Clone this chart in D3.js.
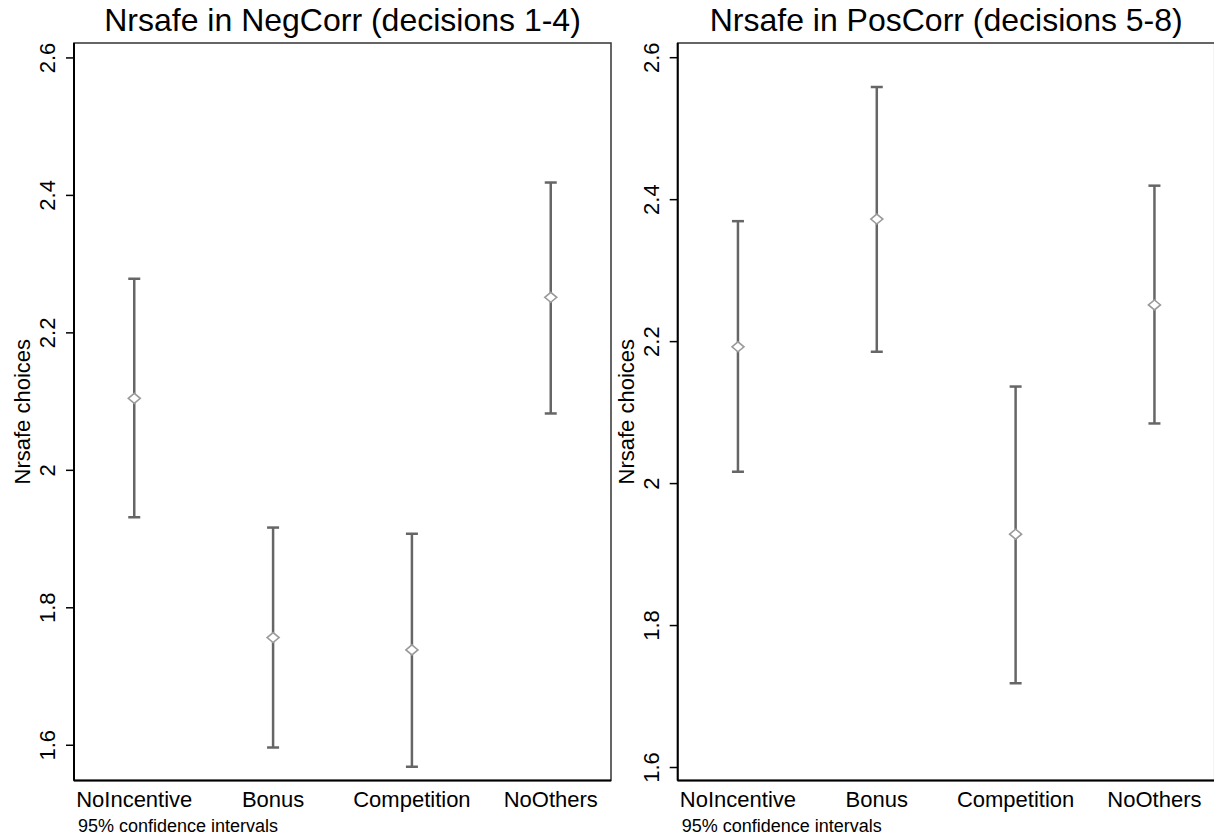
<!DOCTYPE html>
<html>
<head>
<meta charset="utf-8">
<script src="https://cdn.jsdelivr.net/npm/d3@7"></script>
<style>
  body { margin: 0; background: #fff; }
  text { font-family: "Liberation Sans", Arial, sans-serif; fill: #000; }
</style>
</head>
<body>
<svg id="svg" width="1214" height="838"></svg>
<script>
// data
var categories = ['NoIncentive', 'Bonus', 'Competition', 'NoOthers']
var yTicks = [1.6, 1.8, 2, 2.2, 2.4, 2.6]

var negMean = [2.104, 1.756, 1.738, 2.251]
var negLow = [1.931, 1.596, 1.568, 2.082]
var negHigh = [2.278, 1.916, 1.907, 2.418]

var posMean = [2.192, 2.372, 1.928, 2.251]
var posLow = [2.016, 2.185, 1.718, 2.084]
var posHigh = [2.369, 2.558, 2.136, 2.419]

var panels = [
    { title: 'Nrsafe in NegCorr (decisions 1-4)', x0: 74, x1: 611, dom: [1.548, 2.621],
      mean: negMean, low: negLow, high: negHigh },
    { title: 'Nrsafe in PosCorr (decisions 5-8)', x0: 677.7, x1: 1214.7, dom: [1.581, 2.620],
      mean: posMean, low: posLow, high: posHigh }
]

var svg = d3.select('#svg')
var plotTop = 43, plotBottom = 780.5

panels.forEach(function(p) {

    var x = d3.scalePoint().domain(categories).range([p.x0, p.x1]).padding(0.434)
    var y = d3.scaleLinear().domain(p.dom).range([plotBottom, plotTop])

    var g = svg.append('g')

    // plot region border
    g.append('rect')
        .attr('x', p.x0).attr('y', plotTop)
        .attr('width', p.x1 - p.x0).attr('height', plotBottom - plotTop)
        .attr('fill', 'none').attr('stroke', '#333').attr('stroke-width', 1.5)

    // y axis
    var ax = g.append('g')
        .attr('transform', 'translate(' + p.x0 + ',0)')
        .call(d3.axisLeft(y).tickValues(yTicks).tickSize(8).tickSizeOuter(0).tickFormat(d3.format('')))

    ax.select('.domain').remove()
    ax.selectAll('.tick line').attr('stroke', '#000').attr('stroke-width', 1.5)
    ax.selectAll('.tick text')
        .attr('x', null).attr('dy', null)
        .attr('text-anchor', 'middle')
        .attr('transform', 'translate(-19,0) rotate(-90)')
        .style('font-size', '22px')
        .style('font-family', '"Liberation Sans", Arial, sans-serif')
        .attr('fill', '#000')

    // solid left and bottom axis lines
    g.append('line')
        .attr('x1', p.x0).attr('x2', p.x0).attr('y1', plotTop).attr('y2', plotBottom)
        .attr('stroke', '#000').attr('stroke-width', 2)
    g.append('line')
        .attr('x1', p.x0).attr('x2', p.x1).attr('y1', plotBottom).attr('y2', plotBottom)
        .attr('stroke', '#000').attr('stroke-width', 2)

    // y title
    g.append('text')
        .attr('transform', 'translate(' + (p.x0 - 44) + ',' + ((plotTop + plotBottom) / 2) + ') rotate(-90)')
        .attr('text-anchor', 'middle')
        .style('font-size', '22px')
        .text('Nrsafe choices')

    // category labels
    g.selectAll('.cat')
        .data(categories)
        .enter().append('text')
        .attr('class', 'cat')
        .attr('x', function(d) { return x(d) })
        .attr('y', plotBottom + 26)
        .attr('text-anchor', 'middle')
        .style('font-size', '22px')
        .text(function(d) { return d })

    // panel title
    g.append('text')
        .attr('x', (p.x0 + p.x1) / 2).attr('y', 31)
        .attr('text-anchor', 'middle')
        .style('font-size', '32px')
        .text(p.title)

    // note
    g.append('text')
        .attr('x', p.x0 + 4).attr('y', 832)
        .style('font-size', '18px')
        .text('95% confidence intervals')

    // error bars
    var bars = g.selectAll('.ci')
        .data(categories)
        .enter().append('g')
        .attr('class', 'ci')

    bars.append('line')
        .attr('x1', function(d) { return x(d) })
        .attr('x2', function(d) { return x(d) })
        .attr('y1', function(d, i) { return y(p.low[i]) })
        .attr('y2', function(d, i) { return y(p.high[i]) })
        .attr('stroke', '#666').attr('stroke-width', 2.5)

    ;['low', 'high'].forEach(function(k) {
        bars.append('line')
            .attr('x1', function(d) { return x(d) - 6 })
            .attr('x2', function(d) { return x(d) + 6 })
            .attr('y1', function(d, i) { return y(p[k][i]) })
            .attr('y2', function(d, i) { return y(p[k][i]) })
            .attr('stroke', '#666').attr('stroke-width', 2.5)
    })

    // hollow diamond at the mean
    bars.append('path')
        .attr('d', 'M-6,0L0,-5L6,0L0,5Z')
        .attr('transform', function(d, i) { return 'translate(' + x(d) + ',' + y(p.mean[i]) + ')' })
        .attr('fill', '#fff').attr('stroke', '#9a9a9a').attr('stroke-width', 1.6)
})
</script>
</body>
</html>
